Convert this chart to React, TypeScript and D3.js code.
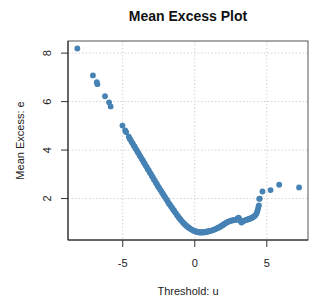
import React from 'react';
import * as d3 from 'd3';

// thresholds u (sorted) and the mean excess e(u)
const thresholds = [
  -8.15, -7.07, -6.8, -6.76, -6.23, -5.95, -5.84, -5.02, -4.83, -4.76,
  -4.58, -4.52, -4.45, -4.38, -4.31, -4.24, -4.17, -4.1, -4.03, -3.96,
  -3.89, -3.82, -3.75, -3.68, -3.61, -3.54, -3.47, -3.4, -3.33, -3.26,
  -3.19, -3.12, -3.05, -2.98, -2.91, -2.84, -2.77, -2.7, -2.63, -2.56,
  -2.49, -2.42, -2.35, -2.28, -2.21, -2.14, -2.07, -2.0, -1.93, -1.86,
  -1.79, -1.72, -1.65, -1.58, -1.51, -1.44, -1.37, -1.3, -1.23, -1.16,
  -1.09, -1.02, -0.95, -0.88, -0.81, -0.74, -0.67, -0.6, -0.53, -0.46,
  -0.39, -0.32, -0.25, -0.18, -0.11, -0.04, 0.03, 0.1, 0.17, 0.24,
  0.31, 0.38, 0.45, 0.52, 0.59, 0.66, 0.73, 0.8, 0.87, 0.94,
  1.01, 1.08, 1.15, 1.22, 1.29, 1.36, 1.43, 1.5, 1.57, 1.64,
  1.71, 1.78, 1.85, 1.92, 1.99, 2.06, 2.13, 2.2, 2.27, 2.34,
  2.41, 2.48, 2.55, 2.62, 2.69, 2.76, 2.83, 2.9, 2.97, 3.04,
  3.1, 3.17, 3.24, 3.31, 3.38, 3.45, 3.52, 3.59, 3.66, 3.73,
  3.8, 3.87, 3.94, 4.01, 4.08, 4.15, 4.22, 4.28, 4.33, 4.38,
  4.42, 4.45, 4.47, 4.52, 4.7, 5.26, 5.86, 7.24,
];

const meanExcess = [
  8.19, 7.08, 6.8, 6.72, 6.22, 5.97, 5.8, 5.01, 4.81, 4.74,
  4.55, 4.47, 4.42, 4.33, 4.28, 4.19, 4.14, 4.05, 4.0, 3.91,
  3.86, 3.77, 3.72, 3.63, 3.58, 3.49, 3.44, 3.35, 3.3, 3.21,
  3.16, 3.07, 3.02, 2.93, 2.88, 2.79, 2.74, 2.65, 2.6, 2.51,
  2.46, 2.38, 2.33, 2.25, 2.2, 2.12, 2.07, 1.99, 1.94, 1.86,
  1.79, 1.75, 1.67, 1.63, 1.55, 1.51, 1.43, 1.39, 1.31, 1.27,
  1.2, 1.16, 1.1, 1.06, 1.0, 0.97, 0.92, 0.89, 0.85, 0.82,
  0.79, 0.76, 0.73, 0.71, 0.68, 0.67, 0.65, 0.64, 0.62, 0.62,
  0.6, 0.61, 0.6, 0.61, 0.6, 0.62, 0.61, 0.63, 0.63, 0.65,
  0.65, 0.67, 0.68, 0.69, 0.71, 0.72, 0.74, 0.76, 0.78, 0.8,
  0.82, 0.85, 0.87, 0.9, 0.92, 0.96, 0.98, 1.01, 1.03, 1.05,
  1.06, 1.08, 1.1, 1.09, 1.11, 1.12, 1.12, 1.14, 1.18, 1.21,
  1.16, 1.07, 1.01, 1.04, 1.07, 1.09, 1.11, 1.12, 1.14, 1.15,
  1.17, 1.18, 1.2, 1.22, 1.25, 1.28, 1.32, 1.38, 1.46, 1.55,
  1.66, 1.72, 1.99, 2.0, 2.29, 2.35, 2.57, 2.46,
];

const xTicks = [-5, 0, 5];
const yTicks = [2, 4, 6, 8];

const W = 318;
const H = 302;
const left = 68, right = 308, top = 41, bottom = 240;
const font = '"Liberation Sans", Arial, Helvetica, sans-serif';

export default function App() {
  const x = d3.scaleLinear().domain([-8.8, 7.86]).range([left, right]);
  const y = d3.scaleLinear().domain([0.29, 8.5]).range([bottom, top]);
  const points = thresholds.map((u, i) => ({ u, e: meanExcess[i] }));

  return (
    <svg width={W} height={H} style={{ position: 'absolute', left: 0, top: 0, background: '#fff' }} fontFamily={font}>
      {/* grid */}
      {xTicks.map((t) => (
        <line key={'gx' + t} x1={x(t)} x2={x(t)} y1={top} y2={bottom} stroke="#d3d3d3" strokeDasharray="1.5,2" />
      ))}
      {yTicks.map((t) => (
        <line key={'gy' + t} x1={left} x2={right} y1={y(t)} y2={y(t)} stroke="#d3d3d3" strokeDasharray="1.5,2" />
      ))}

      {points.map((d, i) => (
        <circle key={i} cx={x(d.u)} cy={y(d.e)} r={2.9} fill="steelblue" />
      ))}

      {/* box */}
      <rect x={left} y={top} width={right - left} height={bottom - top} fill="none" stroke="#555" strokeWidth={1} />
      <line x1={left} x2={left} y1={top} y2={bottom} stroke="#222" />
      <line x1={left} x2={right} y1={bottom} y2={bottom} stroke="#222" />

      {/* x axis */}
      {xTicks.map((t) => (
        <g key={'xt' + t}>
          <line x1={x(t)} x2={x(t)} y1={bottom} y2={bottom + 7} stroke="#333" />
          <text x={x(t)} y={bottom + 27} textAnchor="middle" fontSize={11} fill="#222">
            {t < 0 ? '-' + Math.abs(t) : t}
          </text>
        </g>
      ))}
      {/* y axis */}
      {yTicks.map((t) => (
        <g key={'yt' + t}>
          <line x1={left - 7} x2={left} y1={y(t)} y2={y(t)} stroke="#333" />
          <text transform={`translate(${left - 17},${y(t)}) rotate(-90)`} textAnchor="middle" fontSize={11} fill="#222">
            {t}
          </text>
        </g>
      ))}

      <text x={(left + right) / 2} y={21} textAnchor="middle" fontSize={14} fontWeight="bold" fill="#111">
        Mean Excess Plot
      </text>
      <text x={(left + right) / 2} y={295} textAnchor="middle" fontSize={11} fill="#222">
        Threshold: u
      </text>
      <text transform={`translate(24,${(top + bottom) / 2}) rotate(-90)`} textAnchor="middle" fontSize={11} fill="#222">
        Mean Excess: e
      </text>
    </svg>
  );
}
